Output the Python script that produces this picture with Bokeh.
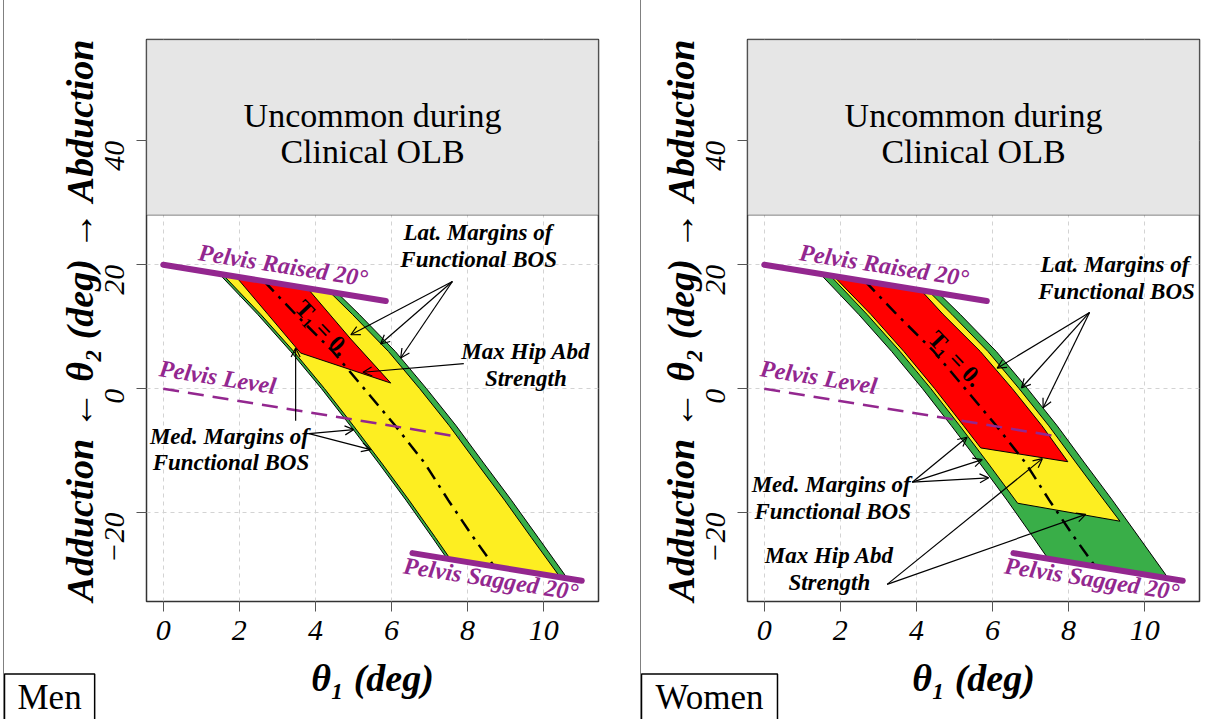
import math
from bokeh.plotting import figure
from bokeh.models import (ColumnDataSource, FixedTicker, BoxAnnotation, Title,
                          Arrow, OpenHead, Range1d, Div)
from bokeh.layouts import row
from bokeh.core.properties import value
from bokeh.embed import file_html
from bokeh.resources import INLINE

# ---------------- axes ----------------
x_ticks = [0, 2, 4, 6, 8, 10]
y_ticks = [-20, 0, 20, 40]
y_tick_labels = {-20: "\u221220", 0: "0", 20: "20", 40: "40"}
x_limits = (-0.44, 11.44)
y_limits = (-34.36, 56.36)
uncommon_floor = 28
x_title = "\u03b8\u2081 (deg)"
y_title = "Adduction \u2190 \u03b8\u2082 (deg) \u2192 Abduction"
uncommon_text = ["Uncommon during", "Clinical OLB"]
uncommon_x = [5.5, 5.5]
uncommon_y = [44.1, 38.3]

# ---------------- feasible band (outer edges, both panels) ----------------
band_left_x = [1.47, 2.48, 3.35, 4.16, 4.92, 5.66, 6.38, 7.07, 7.46]
band_left_y = [18.53, 12, 6, 0, -6, -12, -18, -24, -27.46]
band_right_x = [4.58, 5.15, 6.10, 6.92, 7.70, 8.42, 9.15, 9.85, 10.62]
band_right_y = [15.42, 12, 6, 0, -6, -12, -18, -24, -30.62]

# T1 = 0 curve
t1_x = [2.65, 3.48, 4.46, 5.28, 6.10, 6.87, 7.49, 8.15, 8.70]
t1_y = [17.35, 12, 6, 0, -6, -12, -18, -24, -28.70]

# pelvis lines
raised_x = [0, 5.85]
raised_y = [20, 14.15]
level_x = [0, 7.8]
level_y = [0, -7.8]
sagged_x = [6.55, 11.0]
sagged_y = [-26.55, -31.0]
pelvis_text = ["Pelvis Raised 20\u00b0", "Pelvis Level", "Pelvis Sagged 20\u00b0"]
pelvis_text_x = [3.15, 1.43, 8.61]
pelvis_text_y = [19.9, 1.85, -30.7]

# ---------------- Men ----------------
men_yel_left_x = [1.56, 2.56, 3.43, 4.24, 5.00, 5.74, 6.46, 7.15, 7.55]
men_yel_left_y = [18.44, 12, 6, 0, -6, -12, -18, -24, -27.55]
men_yel_right_x = [4.37, 4.97, 5.92, 6.74, 7.52, 8.24, 8.97, 9.67, 10.43]
men_yel_right_y = [15.63, 12, 6, 0, -6, -12, -18, -24, -30.43]
men_red_x = [1.91, 2.75, 3.61, 5.98, 4.93, 3.79]
men_red_y = [18.09, 12, 5.75, 0.9, 8.0, 16.21]
men_t1_label = (4.18, 9.8)
men_notes_text = ["Lat. Margins of", "Functional BOS", "Max Hip Abd", "Strength",
                  "Med. Margins of", "Functional BOS"]
men_notes_x = [8.27, 8.29, 9.53, 9.53, 1.74, 1.78]
men_notes_y = [25.2, 20.9, 6.0, 1.7, -7.7, -12.0]
men_arrow_x0 = [7.6, 7.6, 7.6, 7.9, 3.83, 3.83, 3.48]
men_arrow_y0 = [17.3, 17.3, 17.3, 4.03, -7.26, -7.26, -5.2]
men_arrow_x1 = [4.93, 5.71, 6.24, 5.25, 5.01, 5.45, 3.48]
men_arrow_y1 = [8.7, 7.2, 4.95, 2.65, -6.61, -9.84, 6.56]

# ---------------- Women ----------------
wom_yel_left_x = [1.73, 2.70, 3.57, 4.38, 5.14, 5.88, 6.66]
wom_yel_left_y = [18.27, 12, 6, 0, -6, -12, -18.5]
wom_yel_right_x = [4.33, 4.93, 5.88, 6.70, 7.48, 8.20, 8.93, 9.35]
wom_yel_right_y = [15.67, 12, 6, 0, -6, -12, -18, -21.4]
wom_red_left_x = [1.82, 2.80, 3.67, 4.48, 5.24, 5.69]
wom_red_left_y = [18.18, 12, 6, 0, -6, -9.57]
wom_red_right_x = [4.12, 4.70, 5.68, 6.52, 7.30, 7.98]
wom_red_right_y = [15.88, 12, 6, 0, -6, -11.8]
wom_t1_label = (5.03, 4.84)
wom_notes_text = ["Lat. Margins of", "Functional BOS", "Med. Margins of", "Functional BOS",
                  "Max Hip Abd", "Strength"]
wom_notes_x = [9.22, 9.26, 1.76, 1.80, 1.71, 1.71]
wom_notes_y = [20.0, 15.7, -15.5, -19.8, -27.0, -31.3]
wom_arrow_x0 = [8.55, 8.55, 8.55, 3.89, 3.89, 3.89, 3.23, 3.23]
wom_arrow_y0 = [12.3, 12.3, 12.3, -15.1, -15.1, -15.1, -31.6, -31.6]
wom_arrow_x1 = [6.12, 6.76, 7.33, 5.33, 5.73, 5.90, 7.31, 8.45]
wom_arrow_y1 = [3.3, 0.1, -3.1, -7.85, -11.45, -14.4, -11.3, -20.3]

PURPLE = "#93278F"
GREEN = "#39AE48"
YELLOW = "#FDEE21"
RED = "#FF0000"
SERIF = "Liberation Serif"
TEXT_ANGLE = -0.155
T1_ANGLE = -0.81
TAG_STANDOFF = -55


def panel(yel_x, yel_y, red_x, red_y, t1_pos, notes, arrows, b_left, b_right, tag, tag_pad):
    p = figure(frame_width=452, frame_height=562,
               min_border_left=b_left, min_border_right=b_right,
               min_border_top=39, min_border_bottom=118,
               x_range=Range1d(*x_limits), y_range=Range1d(*y_limits),
               output_backend="svg", toolbar_location=None, tools="")
    p.background_fill_color = "white"
    p.border_fill_color = "white"
    p.outline_line_color = "#333333"
    p.outline_line_width = 1.5

    # axes
    p.xaxis.ticker = FixedTicker(ticks=x_ticks)
    p.yaxis.ticker = FixedTicker(ticks=y_ticks)
    p.yaxis.major_label_overrides = y_tick_labels
    p.yaxis.major_label_orientation = math.pi / 2
    for ax in (p.xaxis[0], p.yaxis[0]):
        ax.axis_line_color = None
        ax.major_tick_line_color = "#555555"
        ax.major_tick_out = 10
        ax.major_tick_in = 0
        ax.minor_tick_line_color = None
        ax.major_label_text_font = SERIF
        ax.major_label_text_font_style = "italic"
        ax.major_label_text_font_size = "30px"
        ax.major_label_text_color = "black"
        ax.axis_label_text_font = SERIF
        ax.axis_label_text_font_style = "bold italic"
        ax.axis_label_text_font_size = "38px"
        ax.axis_label_text_color = "black"
    p.xaxis.major_label_standoff = 9
    p.xaxis.axis_label_standoff = 14
    p.yaxis.major_label_standoff = 22
    p.yaxis.axis_label_standoff = -8
    p.xaxis.axis_label = x_title
    p.yaxis.axis_label = y_title

    p.xgrid.ticker = FixedTicker(ticks=x_ticks)
    p.ygrid.ticker = FixedTicker(ticks=y_ticks)
    p.grid.grid_line_color = "#D3D3D3"
    p.grid.grid_line_dash = "4 4"

    # uncommon zone
    p.add_layout(BoxAnnotation(bottom=uncommon_floor, fill_color="#E6E6E6", fill_alpha=1,
                               line_color="black", line_width=1.5, level="underlay"))
    p.text(x=uncommon_x, y=uncommon_y, text=uncommon_text, text_font=value(SERIF),
           text_font_size="34px", text_align="center", text_baseline="middle", text_color="black")

    # regions
    p.patch(band_left_x + band_right_x[::-1], band_left_y + band_right_y[::-1],
            fill_color=GREEN, line_color="black", line_width=1)
    p.patch(yel_x, yel_y, fill_color=YELLOW, line_color="black", line_width=1)
    p.patch(red_x, red_y, fill_color=RED, line_color="black", line_width=1)

    # T1 = 0
    p.line(t1_x, t1_y, line_color="black", line_width=2.5, line_dash="14 7 3 7")
    p.text(x=[t1_pos[0]], y=[t1_pos[1]], text=["T\u2081 = 0."], angle=T1_ANGLE,
           text_font=value(SERIF), text_font_style="bold", text_font_size="24px",
           text_align="center", text_baseline="middle", text_color="black")

    # pelvis lines
    p.line(raised_x, raised_y, line_color=PURPLE, line_width=6, line_cap="round")
    p.line(sagged_x, sagged_y, line_color=PURPLE, line_width=6, line_cap="round")
    p.line(level_x, level_y, line_color=PURPLE, line_width=2.5, line_dash="16 9")
    p.text(x=pelvis_text_x, y=pelvis_text_y, text=pelvis_text, angle=TEXT_ANGLE,
           text_font=value(SERIF), text_font_style="bold italic", text_font_size="24px",
           text_align="center", text_baseline="middle", text_color=PURPLE)

    # notes
    nx, ny, nt = notes
    p.text(x=nx, y=ny, text=nt, text_font=value(SERIF), text_font_style="bold italic",
           text_font_size="23px", text_align="center", text_baseline="middle", text_color="black")

    ax0, ay0, ax1, ay1 = arrows
    src = ColumnDataSource(dict(x0=ax0, y0=ay0, x1=ax1, y1=ay1))
    p.add_layout(Arrow(end=OpenHead(size=9, line_width=1.2, line_color="black"),
                       x_start="x0", y_start="y0", x_end="x1", y_end="y1", source=src,
                       line_color="black", line_width=1.2))

    # panel tag (below the x axis, pulled up and to the canvas edge)
    t = Title(text=tag, align="left", offset=-b_left, vertical_align="top",
              standoff=TAG_STANDOFF, text_font=SERIF, text_font_size="35px",
              text_font_style="normal", text_color="black",
              border_line_color="black", border_line_width=1.5,
              background_fill_color="white")
    try:
        t.padding = dict(left=tag_pad, right=tag_pad, top=4, bottom=14)
    except Exception:
        pass
    p.add_layout(t, "below")
    return p


men = panel(men_yel_left_x + men_yel_right_x[::-1], men_yel_left_y + men_yel_right_y[::-1],
            men_red_x, men_red_y, men_t1_label,
            (men_notes_x, men_notes_y, men_notes_text),
            (men_arrow_x0, men_arrow_y0, men_arrow_x1, men_arrow_y1),
            142, 42, "Men", 13)
women = panel(wom_yel_left_x + wom_yel_right_x[::-1], wom_yel_left_y + wom_yel_right_y[::-1],
              wom_red_left_x + wom_red_right_x[::-1], wom_red_left_y + wom_red_right_y[::-1],
              wom_t1_label,
              (wom_notes_x, wom_notes_y, wom_notes_text),
              (wom_arrow_x0, wom_arrow_y0, wom_arrow_x1, wom_arrow_y1),
              106, 20, "Women", 14)

gap = Div(text="", width=3, height=719, margin=0)
sep1 = Div(text="", width=1, height=719, margin=0, styles={"background-color": "#808080"})
sep2 = Div(text="", width=1, height=719, margin=0, styles={"background-color": "#808080"})
layout = row(gap, sep1, men, sep2, women, spacing=0)

open("out.html", "w").write(file_html(layout, INLINE))
